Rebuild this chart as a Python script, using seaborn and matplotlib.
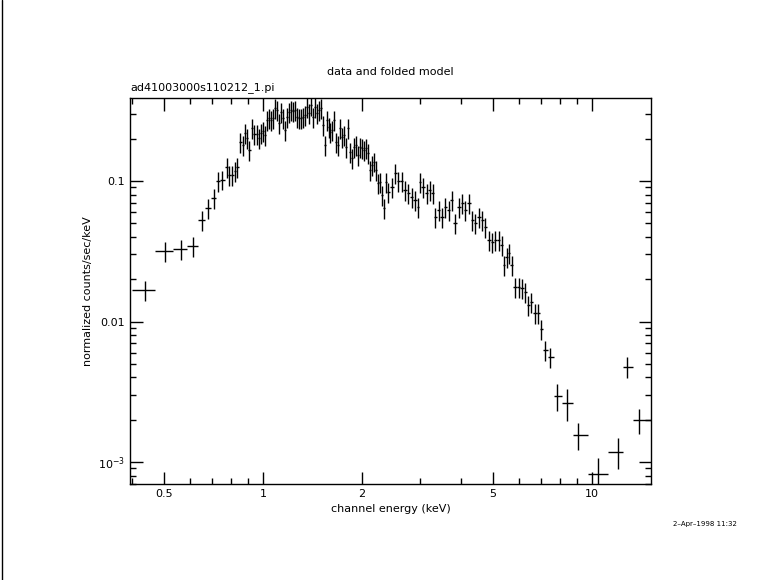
import matplotlib
matplotlib.use("Agg")
import matplotlib.pyplot as plt
import matplotlib.ticker as mticker
import numpy as np
import seaborn as sns

# channel energies (keV) and normalized counts
energy = [0.438, 0.504, 0.563, 0.613, 0.653, 0.680, 0.710, 0.730, 0.750, 0.778,
          0.788, 0.805, 0.822, 0.834, 0.851, 0.869, 0.882, 0.894, 0.906, 0.926,
          0.939, 0.959, 0.972, 0.986, 1.000, 1.014, 1.028, 1.043, 1.058, 1.072,
          1.087, 1.103, 1.118, 1.134, 1.150, 1.166, 1.183, 1.200, 1.216, 1.234,
          1.251, 1.269, 1.287, 1.305, 1.323, 1.342, 1.361, 1.380, 1.400, 1.419,
          1.439, 1.459, 1.480, 1.501, 1.522, 1.544, 1.565, 1.587, 1.598, 1.621,
          1.644, 1.667, 1.690, 1.714, 1.738, 1.763, 1.788, 1.813, 1.838, 1.864,
          1.891, 1.917, 1.944, 1.972, 2.000, 2.028, 2.056, 2.085, 2.115, 2.144,
          2.175, 2.205, 2.236, 2.268, 2.300, 2.332, 2.365, 2.399,
          2.47, 2.52, 2.57, 2.64, 2.70, 2.76, 2.83, 2.90, 2.96, 3.00,
          3.06, 3.15, 3.21, 3.28, 3.33, 3.42, 3.50, 3.57, 3.67, 3.75,
          3.83, 3.94, 4.03, 4.11, 4.23, 4.32, 4.41, 4.53, 4.63, 4.73,
          4.86, 4.97, 5.07, 5.21, 5.32, 5.40, 5.51, 5.59, 5.70, 5.83,
          5.99, 6.12, 6.26, 6.39, 6.53, 6.71, 6.85, 7.00, 7.21, 7.45,
          7.83, 8.40, 9.06, 10.4, 12.0, 12.8, 13.9]
counts = [0.0168, 0.0318, 0.0328, 0.0345, 0.0528, 0.0642, 0.0757, 0.100, 0.102, 0.126,
          0.110, 0.110, 0.118, 0.126, 0.190, 0.180, 0.220, 0.202, 0.166, 0.238,
          0.216, 0.216, 0.202, 0.220, 0.227, 0.212, 0.272, 0.281, 0.272, 0.281,
          0.331, 0.320, 0.259, 0.310, 0.281, 0.231, 0.286, 0.310, 0.320, 0.315,
          0.320, 0.286, 0.281, 0.281, 0.286, 0.295, 0.337, 0.305, 0.348, 0.286,
          0.337, 0.305, 0.320, 0.331, 0.251, 0.180, 0.272, 0.242, 0.223, 0.231,
          0.272, 0.190, 0.180, 0.238, 0.206, 0.212, 0.175, 0.238, 0.161, 0.146,
          0.175, 0.180, 0.153, 0.175, 0.172, 0.166, 0.172, 0.158, 0.120, 0.130,
          0.137, 0.120, 0.0968, 0.0984, 0.0795, 0.0642, 0.0984, 0.0835,
          0.0906, 0.114, 0.100, 0.100, 0.0863, 0.0822, 0.0769, 0.0732, 0.0653, 0.0984,
          0.0906, 0.0822, 0.0863, 0.0822, 0.0554, 0.0621, 0.0554, 0.0653, 0.0621, 0.0732,
          0.0502, 0.0653, 0.0697, 0.0621, 0.0697, 0.0528, 0.0502, 0.0554, 0.0528, 0.0470,
          0.0380, 0.0368, 0.0380, 0.0380, 0.0350, 0.0253, 0.0288, 0.0307, 0.0253, 0.0176,
          0.0176, 0.0173, 0.0162, 0.0131, 0.0138, 0.0115, 0.0115, 0.00886, 0.00627, 0.00560,
          0.00294, 0.00263, 0.00155, 0.00082, 0.00118, 0.00475, 0.00199]
# fractional 1-sigma errors (mostly ~16%, larger at high energy)
err_frac = [0.16] * 138 + [0.22, 0.25, 0.22, 0.30, 0.25, 0.17, 0.20, 0.17, 0.22]

energy = np.array(energy)
counts = np.array(counts)
err_frac = np.array(err_frac[:len(counts)])

# bin edges halfway (in log) between neighbouring channels
loge = np.log10(energy)
mid = (loge[1:] + loge[:-1]) / 2
lo_edge = np.concatenate([[np.log10(0.40)], mid])
hi_edge = np.concatenate([mid, [np.log10(15.1)]])
xlo = energy - 10 ** lo_edge
xhi = 10 ** hi_edge - energy

sns.set_theme(style="ticks")
plt.rcParams["font.family"] = ["DejaVu Sans"]
plt.rcParams["text.color"] = "black"
plt.rcParams["axes.labelcolor"] = "black"
plt.rcParams["xtick.color"] = "black"
plt.rcParams["ytick.color"] = "black"

fig = plt.figure(figsize=(7.81, 5.80), dpi=100)
ax = fig.add_axes([0.1665, 0.1655, 0.667, 0.6655])
ax.errorbar(energy, counts, xerr=[xlo, xhi], yerr=counts * err_frac,
            fmt="none", ecolor="black", elinewidth=1.0, capsize=0)

ax.set_xscale("log")
ax.set_yscale("log")
ax.set_xlim(0.394, 15.1)
ax.set_ylim(0.000697, 0.39)
ax.set_xticks([0.5, 1, 2, 5, 10])
ax.xaxis.set_major_formatter(mticker.FixedFormatter(["0.5", "1", "2", "5", "10"]))
ax.set_yticks([0.001, 0.01, 0.1])
ax.set_yticklabels([r"$10^{-3}$", "0.01", "0.1"])
ax.yaxis.set_minor_formatter(mticker.NullFormatter())
ax.xaxis.set_minor_formatter(mticker.NullFormatter())
ax.tick_params(which="both", direction="in", top=True, right=True,
               labelsize=8, color="black", labelcolor="black", width=1)
ax.tick_params(which="major", length=9)
ax.tick_params(which="minor", length=4)
for s in ax.spines.values():
    s.set_color("black")
    s.set_linewidth(1)

ax.set_xlabel("channel energy (keV)", fontsize=8, labelpad=4)
ax.set_ylabel("normalized counts/sec/keV", fontsize=8, labelpad=4)
fig.text(0.5, 1 - 72 / 580, "data and folded model", ha="center", va="center", fontsize=8)
fig.text(130 / 781, 1 - 88 / 580, "ad41003000s110212_1.pi", ha="left", va="center", fontsize=8)
fig.text(705 / 781, 1 - 524 / 580, "2\u2013Apr\u20131998 11:32", ha="center", va="center", fontsize=5)
fig.add_artist(plt.Line2D([2 / 781, 2 / 781], [0, 1], color="black", lw=1))

fig.savefig("out.png", dpi=100, facecolor="white")
